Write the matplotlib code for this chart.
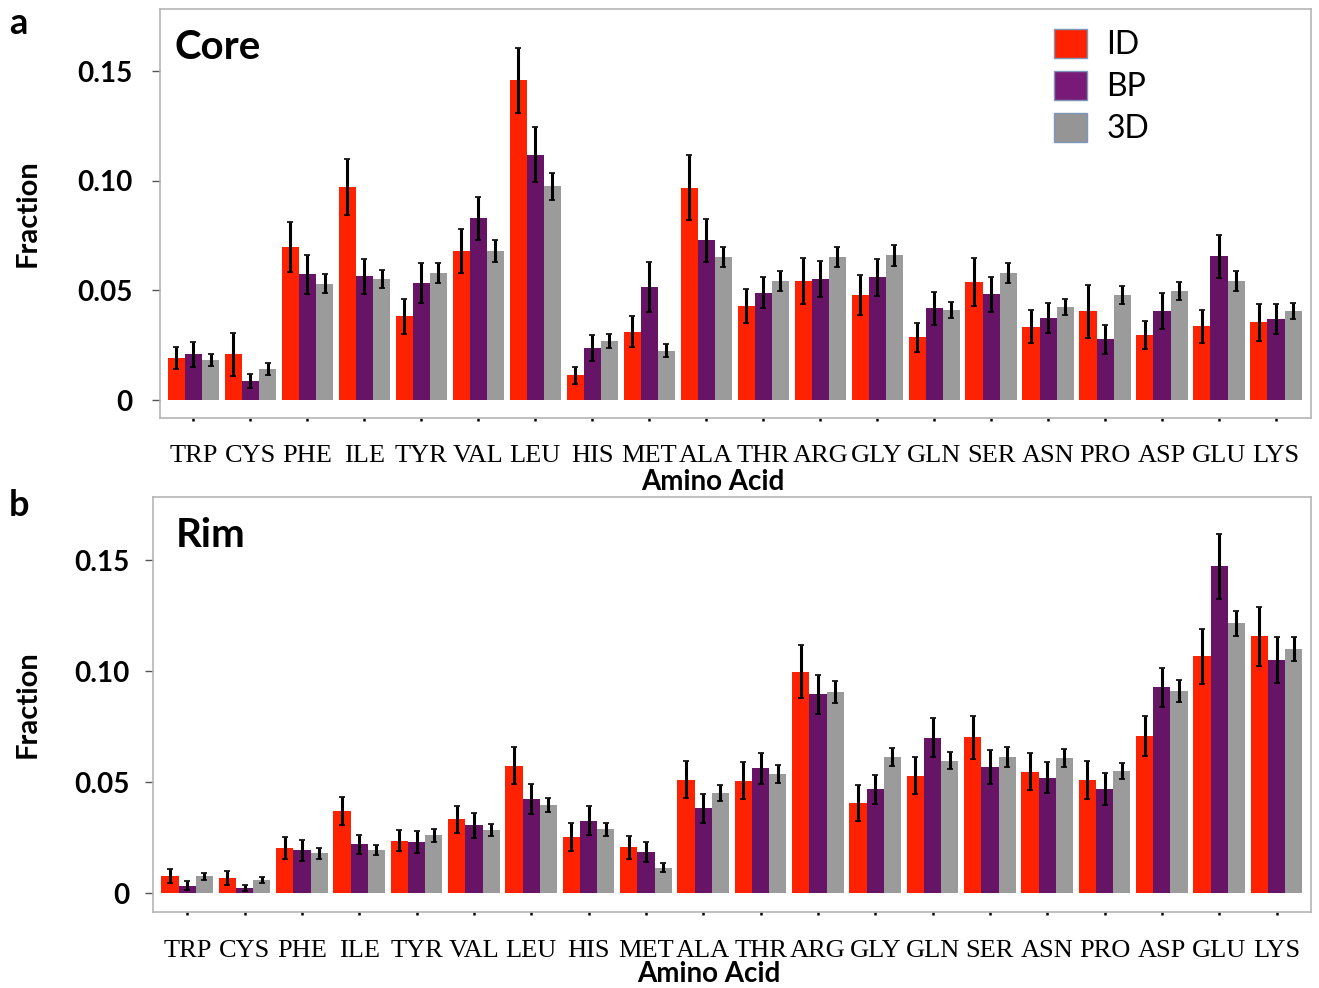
import matplotlib
matplotlib.use('Agg')
import matplotlib.pyplot as plt
from matplotlib.patches import Patch
import numpy as np

# amino acids in plotted order
residues = ['TRP', 'CYS', 'PHE', 'ILE', 'TYR', 'VAL', 'LEU', 'HIS', 'MET', 'ALA',
            'THR', 'ARG', 'GLY', 'GLN', 'SER', 'ASN', 'PRO', 'ASP', 'GLU', 'LYS']
series = ['ID', 'BP', '3D']

# panel a: core
core_id = [0.019, 0.0208, 0.0698, 0.097, 0.0381, 0.0678, 0.1459, 0.0112, 0.0312, 0.0968,
           0.0427, 0.0543, 0.0479, 0.0286, 0.0537, 0.0334, 0.0404, 0.0296, 0.0336, 0.0354]
core_id_err = [0.005, 0.0099, 0.0116, 0.0127, 0.0078, 0.0101, 0.0148, 0.004, 0.007, 0.0147,
               0.0078, 0.0103, 0.0091, 0.0066, 0.0109, 0.0076, 0.012, 0.0065, 0.0074, 0.0084]
core_bp = [0.0208, 0.0088, 0.0573, 0.0565, 0.0532, 0.0828, 0.1119, 0.0236, 0.0515, 0.0728,
           0.0489, 0.0552, 0.0559, 0.0418, 0.0482, 0.0375, 0.0277, 0.0406, 0.0655, 0.0368]
core_bp_err = [0.0057, 0.0033, 0.0089, 0.008, 0.0091, 0.01, 0.0126, 0.0059, 0.0115, 0.0097,
               0.0071, 0.0084, 0.0084, 0.0074, 0.008, 0.0069, 0.0065, 0.0084, 0.0097, 0.0068]
core_3d = [0.0182, 0.0141, 0.053, 0.0553, 0.0578, 0.0678, 0.0974, 0.0268, 0.0225, 0.0652,
           0.0543, 0.0652, 0.066, 0.041, 0.0579, 0.0424, 0.0479, 0.0497, 0.0544, 0.0406]
core_3d_err = [0.0026, 0.0028, 0.0043, 0.0042, 0.0046, 0.005, 0.0063, 0.0032, 0.0029, 0.0046,
               0.0046, 0.0047, 0.0047, 0.0035, 0.0047, 0.0038, 0.0043, 0.0043, 0.0046, 0.0038]

# panel b: rim
rim_id = [0.008, 0.0071, 0.0206, 0.0369, 0.0237, 0.0333, 0.0575, 0.0254, 0.0207, 0.0511,
          0.0508, 0.0998, 0.0408, 0.053, 0.0703, 0.0547, 0.0509, 0.0709, 0.1069, 0.1159]
rim_id_err = [0.0032, 0.0032, 0.0049, 0.0063, 0.0047, 0.0059, 0.0084, 0.0065, 0.0053, 0.0083,
              0.0083, 0.012, 0.008, 0.0082, 0.0098, 0.0083, 0.0086, 0.009, 0.0124, 0.0133]
rim_bp = [0.0035, 0.0023, 0.0195, 0.0221, 0.0231, 0.0306, 0.0425, 0.0327, 0.0188, 0.0383,
          0.0563, 0.0896, 0.0468, 0.0701, 0.0568, 0.0521, 0.047, 0.0928, 0.1474, 0.1051]
rim_bp_err = [0.002, 0.0014, 0.0047, 0.0043, 0.0051, 0.0056, 0.0069, 0.0065, 0.0045, 0.0066,
              0.0071, 0.0089, 0.0065, 0.0088, 0.0077, 0.007, 0.007, 0.0088, 0.0146, 0.0104]
rim_3d = [0.0078, 0.006, 0.018, 0.0195, 0.0261, 0.0287, 0.0398, 0.0288, 0.0116, 0.0452,
          0.0536, 0.0908, 0.0614, 0.0598, 0.0614, 0.0608, 0.0551, 0.0913, 0.1216, 0.1101]
rim_3d_err = [0.0016, 0.0015, 0.0025, 0.0024, 0.0029, 0.0027, 0.0033, 0.0028, 0.0019, 0.0034,
              0.004, 0.005, 0.004, 0.0039, 0.0044, 0.0041, 0.0038, 0.005, 0.0057, 0.0055]

colors = ['#ff2200', '#671466', '#9b9b9b']
sans = ['Lato', 'DejaVu Sans']

fig = plt.figure(figsize=(13.19, 9.88), dpi=100)

panels = [
    # rect, values, errors, title, title pos, letter, letter pos,
    # ytick pad, xtick pad, ylabel x, xlabel y, xlim, ylim
    ([0.1213, 0.5769, 0.8726, 0.4140], [core_id, core_bp, core_3d],
     [core_id_err, core_bp_err, core_3d_err], 'Core', (0.013, 0.950), 'a', (0.007, 0.976),
     14, 17, -0.104, -0.124, (-0.588, 19.614), (-0.0082, 0.1783)),
    ([0.1160, 0.0769, 0.8779, 0.4200], [rim_id, rim_bp, rim_3d],
     [rim_id_err, rim_bp_err, rim_3d_err], 'Rim', (0.020, 0.951), 'b', (0.007, 0.488),
     11, 18, -0.097, -0.119, (-0.598, 19.6), (-0.0084, 0.1785)),
]

x = np.arange(len(residues))
width = 0.3

for rect, vals, errs, title, tpos, letter, lpos, ypad, xpad, ylx, xly, xlim, ylim in panels:
    ax = fig.add_axes(rect)
    for j in range(3):
        ax.bar(x + (j - 1) * width, vals[j], width, color=colors[j], linewidth=0,
               yerr=errs[j], error_kw=dict(ecolor='black', elinewidth=2.2, capsize=2.2,
                                           capthick=1.2))
    ax.set_xlim(xlim)
    ax.set_ylim(ylim)
    ax.set_xticks(x)
    ax.set_xticklabels(residues, family='Liberation Serif', fontsize=19)
    ax.set_yticks([0, 0.05, 0.10, 0.15])
    ax.set_yticklabels(['0', '0.05', '0.10', '0.15'], family=sans, fontsize=20,
                       fontweight='bold')
    ax.tick_params(axis='x', length=2.5, width=1.8, pad=xpad, color='black')
    ax.tick_params(axis='y', length=6, width=1, pad=ypad, color='#555555')
    for sp in ax.spines.values():
        sp.set_color('#b5b5b5')
        sp.set_linewidth(1.2)

    ax.set_xlabel('Amino Acid', family=sans, fontsize=20, fontweight='bold')
    ax.xaxis.set_label_coords(0.48, xly)
    ax.set_ylabel('Fraction', family=sans, fontsize=21, fontweight='bold')
    ax.yaxis.set_label_coords(ylx, 0.5)

    ax.text(tpos[0], tpos[1], title, transform=ax.transAxes, family=sans, fontsize=29,
            fontweight='bold', va='top', ha='left')
    fig.text(lpos[0], lpos[1], letter, family=sans, fontsize=26, fontweight='bold',
             va='center', ha='left')

    if title == 'Core':
        handles = [Patch(facecolor=c, edgecolor='#7d97b8', linewidth=1.0) for c in
                   ['#ff2200', '#7a1a78', '#959595']]
        ax.legend(handles, series, loc='upper left', bbox_to_anchor=(0.777, 0.952),
                  frameon=False, prop={'family': sans, 'size': 23}, handlelength=1.03,
                  handleheight=1.03, labelspacing=0.33, handletextpad=0.6, borderpad=0,
                  borderaxespad=0)

fig.savefig('out.png', dpi=100)
